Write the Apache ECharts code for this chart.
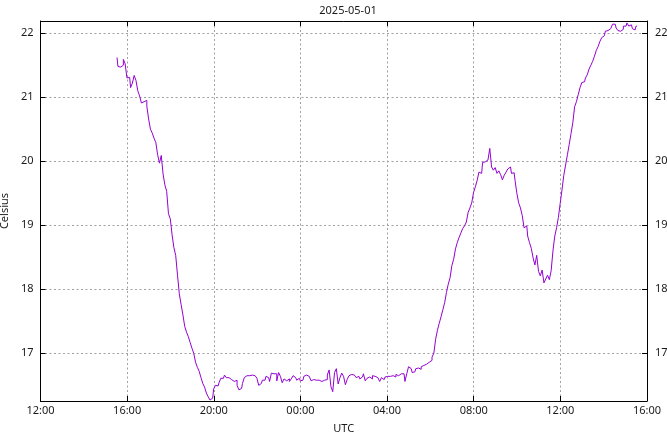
<!DOCTYPE html>
<html>
<head>
<meta charset="utf-8">
<script src="https://cdn.jsdelivr.net/npm/echarts@6/dist/echarts.min.js"></script>
<style>html,body{margin:0;padding:0;background:#fff}#c{width:667px;height:432px}</style>
</head>
<body>
<div id="c"></div>
<script>
// Data: temperature readings every 5 minutes starting 2025-05-01 15:32 UTC
var titleText = "2025-05-01";
var xName = "UTC";
var yName = "Celsius";
var startTime = "2025-05-01T15:32:00Z";
var stepMinutes = 5;
var temps = [
21.62,21.48,21.47,21.50,21.59,21.52,21.30,21.31,21.15,21.22,
21.34,21.26,21.10,21.02,20.91,20.93,20.95,20.86,20.66,20.50,
20.44,20.36,20.29,20.10,19.97,20.09,19.80,19.63,19.53,19.18,
19.10,18.85,18.65,18.53,18.22,17.93,17.76,17.60,17.42,17.33,
17.26,17.17,17.08,17.00,16.86,16.78,16.72,16.62,16.53,16.47,
16.38,16.32,16.27,16.30,16.44,16.50,16.49,16.54,16.61,16.61,
16.66,16.62,16.62,16.59,16.58,16.56,16.58,16.50,16.43,16.45,
16.53,16.62,16.65,16.65,16.64,16.66,16.65,16.64,16.61,16.50,
16.53,16.58,16.58,16.64,16.62,16.56,16.69,16.68,16.68,16.57,
16.70,16.64,16.54,16.60,16.57,16.60,16.56,16.60,16.65,16.62,
16.58,16.61,16.57,16.58,16.64,16.66,16.64,16.61,16.57,16.59,
16.58,16.60,16.58,16.56,16.53,16.58,16.59,16.66,16.74,16.48,
16.40,16.70,16.76,16.52,16.62,16.69,16.64,16.51,16.59,16.65,
16.67,16.66,16.67,16.62,16.64,16.60,16.63,16.68,16.57,16.61,
16.63,16.60,16.65,16.64,16.62,16.59,16.56,16.62,16.59,16.63,
16.64,16.64,16.62,16.65,16.63,16.67,16.65,16.68,16.65,16.68,
16.56,16.68,16.79,16.76,16.70,16.71,16.76,16.77,16.75,16.79,
16.81,16.83,16.85,16.86,16.89,16.94,17.00,17.22,17.36,17.47,
17.57,17.68,17.79,17.95,18.08,18.18,18.37,18.47,18.63,18.73,
18.81,18.88,18.95,18.99,19.05,19.20,19.27,19.35,19.51,19.60,
19.70,19.83,19.81,19.98,19.99,20.02,20.05,20.20,19.91,19.86,
19.90,19.81,19.85,19.79,19.71,19.78,19.83,19.88,19.91,19.81,
19.82,19.70,19.50,19.35,19.27,19.15,18.96,18.99,18.83,18.73,
18.64,18.49,18.38,18.53,18.28,18.21,18.30,18.10,18.16,18.22,
18.15,18.29,18.60,18.83,18.96,19.12,19.34,19.55,19.78,19.94,
20.10,20.26,20.43,20.60,20.85,20.93,21.04,21.15,21.23,21.24,
21.30,21.35,21.44,21.50,21.56,21.64,21.73,21.79,21.87,21.93,
21.96,22.03,22.04,22.07,22.09,22.14,22.14,22.08,22.04,22.03,
22.06,22.11,22.11,22.16,22.11,22.13,22.07,22.05,22.11
];
var xMinTime = "2025-05-01T12:00:00Z";
var xMaxTime = "2025-05-02T16:00:00Z";
var xTickHours = 4;
var yMin = 16.255, yMax = 22.19;

var t0 = Date.parse(startTime);
var seriesData = temps.map(function (v, i) { return [t0 + i * stepMinutes * 60000, v]; });

var font = "'Noto Sans', 'Open Sans', sans-serif";
var txt = '#1a1a1a';
var gridLine = { show: true, lineStyle: { color: '#a0a0a0', width: 1, type: [2, 2.5] } };
function hhmm(v) {
  var d = new Date(v);
  var h = d.getUTCHours(), m = d.getUTCMinutes();
  return (h < 10 ? '0' : '') + h + ':' + (m < 10 ? '0' : '') + m;
}
function intLabel(v) {
  return Math.abs(v - Math.round(v)) < 1e-6 ? String(Math.round(v)) : '';
}
var xBase = {
  type: 'value',
  min: Date.parse(xMinTime),
  max: Date.parse(xMaxTime),
  interval: xTickHours * 3600000,
  axisLine: { show: true, lineStyle: { color: '#000', width: 1 } },
  axisTick: { show: true, inside: true, length: 5, lineStyle: { color: '#000' } }
};
var yBase = {
  type: 'value',
  min: yMin, max: yMax,
  minInterval: 1, maxInterval: 1,
  axisLine: { show: true, lineStyle: { color: '#000', width: 1 } },
  axisTick: { show: true, inside: true, length: 5, lineStyle: { color: '#000' } }
};

var chart = echarts.init(document.getElementById('c'), null, { renderer: 'canvas' });
chart.setOption({
  animation: false,
  backgroundColor: '#fff',
  title: {
    text: titleText, left: 343, top: 0, textAlign: 'center',
    textStyle: { fontFamily: font, fontSize: 11, fontWeight: 'normal', color: txt }
  },
  grid: { left: 40.5, right: 20, top: 21, bottom: 31, containLabel: false, outerBoundsMode: 'none' },
  xAxis: [
    Object.assign({}, xBase, {
      position: 'bottom',
      name: xName, nameLocation: 'middle', nameGap: 22,
      nameTextStyle: { fontFamily: font, fontSize: 11, color: txt },
      axisLabel: { formatter: hhmm, fontFamily: font, fontSize: 11, color: txt, margin: 4 },
      splitLine: gridLine
    }),
    Object.assign({}, xBase, {
      position: 'top',
      axisLabel: { show: false },
      splitLine: { show: false }
    })
  ],
  yAxis: [
    Object.assign({}, yBase, {
      position: 'left',
      name: yName, nameLocation: 'middle', nameGap: 28,
      nameTextStyle: { fontFamily: font, fontSize: 11, color: txt },
      axisLabel: { formatter: intLabel, fontFamily: font, fontSize: 11, color: txt, margin: 7 },
      splitLine: gridLine
    }),
    Object.assign({}, yBase, {
      position: 'right',
      axisLabel: { formatter: intLabel, fontFamily: font, fontSize: 11, color: txt, margin: 8 },
      splitLine: { show: false }
    })
  ],
  series: [{
    type: 'line',
    data: seriesData,
    xAxisIndex: 0, yAxisIndex: 0,
    step: 'middle',
    showSymbol: false,
    symbol: 'none',
    lineStyle: { color: '#9400d3', width: 1 },
    itemStyle: { color: '#9400d3' }
  }]
});
</script>
</body>
</html>
